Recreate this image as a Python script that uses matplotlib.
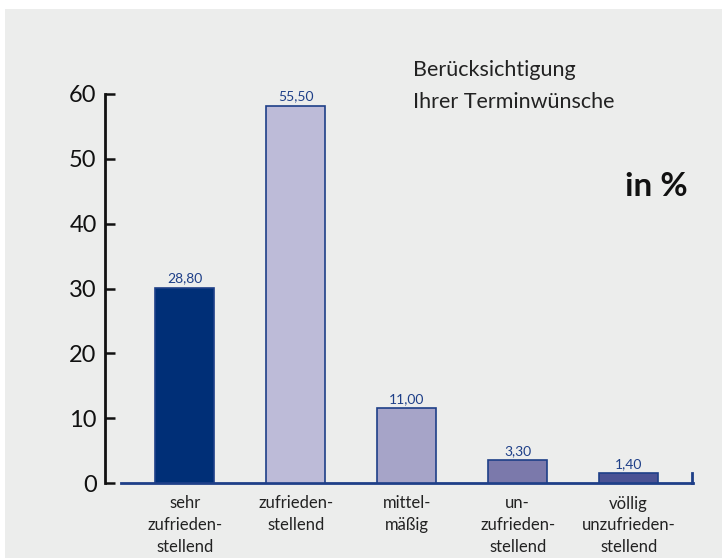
import numpy as np
import matplotlib.pyplot as plt
from matplotlib.patches import Rectangle

kategorien = ['sehr\nzufrieden-\nstellend', 'zufrieden-\nstellend', 'mittel-\nmäßig',
              'un-\nzufrieden-\nstellend', 'völlig\nunzufrieden-\nstellend']
# Hoehe der Balken so wie im Bild gezeichnet
hoehen = [30.1, 58.2, 11.5, 3.5, 1.5]
# Beschriftung der Balken
werte = [28.80, 55.50, 11.00, 3.30, 1.40]
farben = ['#002f77', '#bdbbd8', '#a6a4c8', '#7b79ab', '#4a5294']
yticks = [0, 10, 20, 30, 40, 50, 60]

plt.rcParams['font.family'] = ['Lato', 'DejaVu Sans']

fig = plt.figure(figsize=(7.22, 5.58), dpi=100)
fig.patches.append(Rectangle((5/722, 0), 1, 1 - 9/558, transform=fig.transFigure,
                             facecolor='#ecedec', edgecolor='none', zorder=-10))

ax = fig.add_axes([105/722, (558-483)/558, (693-105)/722, (483-94)/558])
ax.set_facecolor('none')

x = np.arange(len(werte))
ax.bar(x, hoehen, width=0.53, color=farben, edgecolor='#1e3f88', linewidth=1.2, zorder=3)

for xi, h, w in zip(x, hoehen, werte):
    ax.text(xi, h + 0.5, f'{w:.2f}'.replace('.', ','), ha='center', va='bottom',
            fontsize=10, color='#1e3f88')

ax.set_xlim(-0.72, 4.58)
ax.set_ylim(0, 60)

for s in ['top', 'right']:
    ax.spines[s].set_visible(False)
ax.spines['left'].set_linewidth(2)
ax.spines['left'].set_color('#111111')
ax.spines['bottom'].set_bounds(-0.58, 4.58)
ax.spines['bottom'].set_color('#1e3f88')
ax.spines['bottom'].set_linewidth(2)
ax.plot([4.57, 4.57], [0, 1.5], color='#1e3f88', lw=2, clip_on=False, zorder=4)

ax.set_yticks(yticks)
ax.set_yticklabels([str(t) for t in yticks], fontsize=17, color='#111111')
ax.tick_params(axis='y', direction='in', length=7, width=1.8, pad=6, color='#111111')

ax.set_xticks(x)
ax.set_xticklabels(kategorien, fontsize=12, color='#222222', linespacing=1.45)
ax.tick_params(axis='x', length=0, pad=9)

fig.text(413/722, 1 - 70/558, 'Berücksichtigung', fontsize=15.5,
         color='#222222', va='center')
fig.text(413/722, 1 - 102/558, 'Ihrer Terminwünsche', fontsize=15.5,
         color='#222222', va='center')
fig.text(688/722, 1 - 187/558, 'in %', fontsize=24, fontweight='bold', color='#111111',
         ha='right', va='center')

fig.savefig('out.png', dpi=100)
